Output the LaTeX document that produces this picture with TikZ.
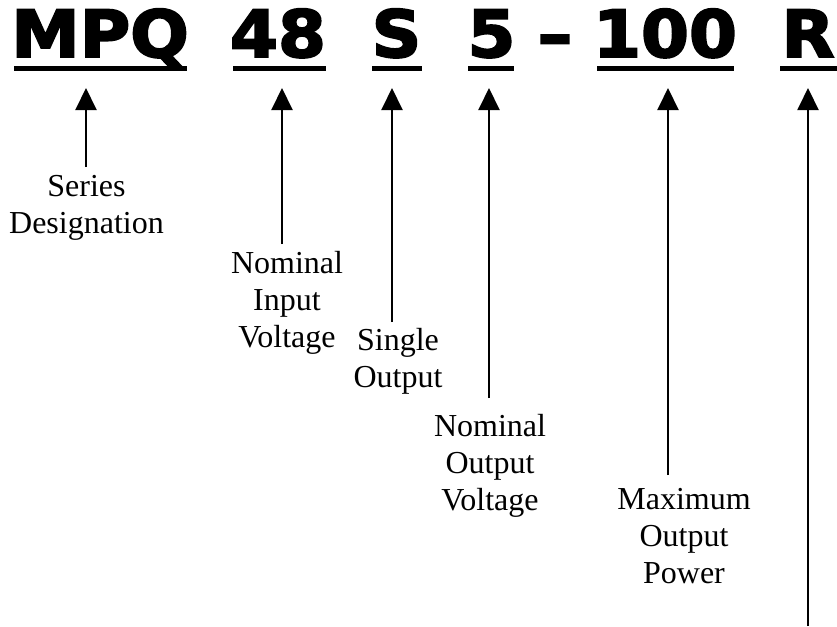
\documentclass[tikz,border=0pt]{standalone}
\usepackage{fontspec}
\setmainfont{Liberation Serif}
\newfontfamily\heavyfont{DejaVu Sans Bold}[FakeBold=3, FakeStretch=1.06]
\usetikzlibrary{arrows.meta}
\begin{document}
\begin{tikzpicture}[x=1pt,y=-1pt,
  code/.style={font=\heavyfont\fontsize{65}{65}\selectfont, inner sep=0pt, anchor=base},
  lbl/.style={font=\fontsize{32}{37}\selectfont, align=center, inner sep=0pt, anchor=base},
  uline/.style={line width=4.5pt},
  arr/.style={line width=2pt, -{Triangle[length=22pt,width=21pt]}}]
\useasboundingbox (0,0) rectangle (837,626);
% code letters
\node[code] (mpq) at (100,57) {MPQ};
\node[code] (vin) at (278,57) {48};
\node[code] (sgl) at (396.5,57) {S};
\node[code] (vout) at (491.5,57) {5};
\node[code] (dsh) at (555,57) {–};
\node[code] (pwr) at (665,57) {100};
\node[code] (rr) at (808,57) {R};
% underlines
\draw[uline] (14,68.5) -- (187,68.5);
\draw[uline] (233,68.5) -- (326,68.5);
\draw[uline] (372,68.5) -- (422,68.5);
\draw[uline] (468,68.5) -- (514,68.5);
\draw[uline] (597,68.5) -- (734,68.5);
\draw[uline] (780,68.5) -- (837,68.5);
% labels (anchor base = baseline of last line)
\node[lbl] (lser) at (86.5,233) {Series\\Designation};
\node[lbl] (lvin) at (287,347) {Nominal\\Input\\Voltage};
\node[lbl] (lsgl) at (398,387) {Single\\Output};
\node[lbl] (lvout) at (490,510) {Nominal\\Output\\Voltage};
\node[lbl] (lpwr) at (684,583) {Maximum\\Output\\Power};
% arrow tips and tails
\coordinate (tA) at (86,88);   \coordinate (eA) at (86,167);
\coordinate (tB) at (282,88);  \coordinate (eB) at (282,244);
\coordinate (tC) at (392,88);  \coordinate (eC) at (392,322);
\coordinate (tD) at (489,88);  \coordinate (eD) at (489,398);
\coordinate (tE) at (668,88);  \coordinate (eE) at (668,475);
\coordinate (tF) at (808,88);  \coordinate (eF) at (808,626);
\draw[arr] (eA) -- (tA);
\draw[arr] (eB) -- (tB);
\draw[arr] (eC) -- (tC);
\draw[arr] (eD) -- (tD);
\draw[arr] (eE) -- (tE);
\draw[arr] (eF) -- (tF);
\end{tikzpicture}
\end{document}
